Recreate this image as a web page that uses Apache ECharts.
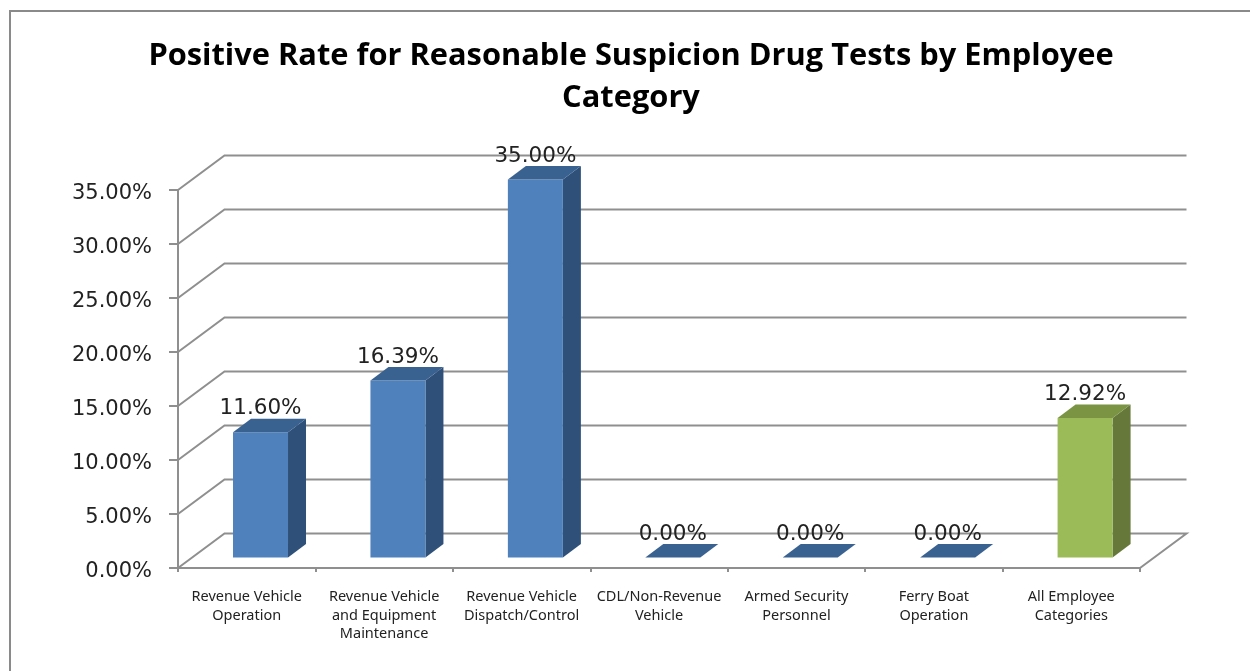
<!DOCTYPE html>
<html>
<head>
<meta charset="utf-8">
<style>html,body{margin:0;padding:0;background:#fff}#c{width:1250px;height:671px}</style>
<script src="https://cdn.jsdelivr.net/npm/echarts@6/dist/echarts.min.js"></script>
</head>
<body>
<div id="c"></div>
<script>
const titleText = 'Positive Rate for Reasonable Suspicion Drug Tests by Employee\nCategory';
const categories = [
  'Revenue Vehicle\nOperation',
  'Revenue Vehicle\nand Equipment\nMaintenance',
  'Revenue Vehicle\nDispatch/Control',
  'CDL/Non-Revenue\nVehicle',
  'Armed Security\nPersonnel',
  'Ferry Boat\nOperation',
  'All Employee\nCategories'
];
const rates = [11.60, 16.39, 35.00, 0.00, 0.00, 0.00, 12.92];
const gridTicks = [0, 5, 10, 15, 20, 25, 30, 35];

const BLUE = ['#4F81BD', '#3A6291', '#2F5079'];
const GREEN = ['#9BBB59', '#7A9443', '#66793A'];
const WALL = [46.5, -34.5];
const BAR_SHIFT = [13.8, -10.5];
const BAR_DEPTH = [18, -13.5];
const BAR_W = 55;
const LINE = '#8f8f8f';

const chart = echarts.init(document.getElementById('c'), null, {renderer: 'canvas'});
chart.setOption({
  animation: false,
  backgroundColor: '#fff',
  title: {
    text: titleText,
    left: 626, top: 30, textAlign: 'center',
    textStyle: {fontFamily: 'Open Sans', fontWeight: 'bold', fontSize: 30.8, lineHeight: 42, color: '#000'}
  },
  graphic: [{
    type: 'rect', silent: true, z: -5,
    shape: {x: 10, y: 11, width: 1300, height: 720},
    style: {fill: 'none', stroke: '#8a8a8a', lineWidth: 2}
  }],
  grid: {left: 178, top: 190, width: 962, height: 378},
  xAxis: {
    type: 'category',
    data: categories,
    axisLine: {lineStyle: {color: LINE, width: 2}},
    axisTick: {show: true, length: 4, lineStyle: {color: LINE, width: 2}},
    axisLabel: {interval: 0, margin: 20, fontFamily: 'Noto Sans', fontSize: 14.5, lineHeight: 18.5, color: '#222'}
  },
  yAxis: {
    type: 'value', min: 0, max: 35, interval: 5,
    axisLine: {show: true, lineStyle: {color: LINE, width: 2}},
    axisTick: {show: true, length: 9, lineStyle: {color: LINE, width: 2}},
    splitLine: {show: false},
    axisLabel: {margin: 26, verticalAlign: 'top', lineHeight: 8, fontFamily: 'DejaVu Sans', fontSize: 21, color: '#222', formatter: v => v.toFixed(2) + '%'}
  },
  series: [
    {
      type: 'custom', z: 1, silent: true,
      data: gridTicks.map(t => [0, t]),
      renderItem(params, api) {
        const cs = params.coordSys;
        const y = api.coord([0, api.value(1)])[1];
        const pts = [[cs.x, y], [cs.x + WALL[0], y + WALL[1]], [cs.x + cs.width + WALL[0], y + WALL[1]]];
        if (api.value(1) === 0) pts.push([cs.x + cs.width, y]);
        return {type: 'polyline', shape: {points: pts}, style: {fill: 'none', stroke: LINE, lineWidth: 2}};
      }
    },
    {
      type: 'custom', z: 2, silent: true,
      data: rates.map((v, i) => [i, v]),
      renderItem(params, api) {
        const i = api.value(0), v = api.value(1);
        const c = api.coord([i, v]), base = api.coord([i, 0]);
        const l = c[0] + BAR_SHIFT[0] - BAR_W / 2, r = l + BAR_W;
        const t = c[1] + BAR_SHIFT[1], b = base[1] + BAR_SHIFT[1];
        const dx = BAR_DEPTH[0], dy = BAR_DEPTH[1];
        const col = i === categories.length - 1 ? GREEN : BLUE;
        const kids = [];
        if (b - t > 0.5) {
          kids.push({type: 'polygon', shape: {points: [[r, t], [r + dx, t + dy], [r + dx, b + dy], [r, b]]}, style: {fill: col[2]}});
          kids.push({type: 'rect', shape: {x: l, y: t, width: BAR_W, height: b - t}, style: {fill: col[0]}});
        }
        kids.push({type: 'polygon', shape: {points: [[l, t], [l + dx, t + dy], [r + dx, t + dy], [r, t]]}, style: {fill: col[1]}});
        kids.push({
          type: 'text', z2: 10,
          style: {
            text: v.toFixed(2) + '%', x: (l + r) / 2, y: t - 23.5,
            align: 'center', verticalAlign: 'middle',
            font: '21.5px "DejaVu Sans"', fill: '#222'
          }
        });
        return {type: 'group', children: kids};
      }
    }
  ]
});
</script>
</body>
</html>
